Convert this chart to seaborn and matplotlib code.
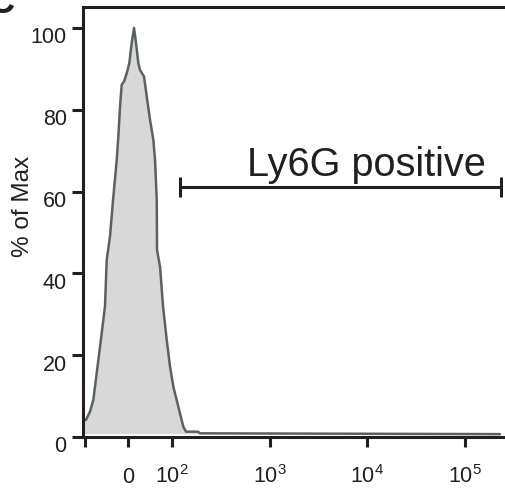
import matplotlib
matplotlib.use('Agg')
import matplotlib.pyplot as plt
import matplotlib.transforms as mtransforms
import pandas as pd
import seaborn as sns

# Ly6G histogram outline (fluorescence units, % of max)
ly6g_fluor = [-103.8, -103.8, -97.4, -88.2, -80.6, -72.8, -65.2, -53.7, -49.7,
              -42.1, -35.2, -26.7, -23.0, -19.1, -15.2, -9.9, -3.7, 2.3, 7.8,
              13.1, 17.7, 23.0, 26.9, 36.2, 42.4, 50.0, 57.6, 61.5, 65.4, 66.1,
              73.0, 79.9, 88.4, 96.0, 103.8, 116.7, 131.3, 140.0, 185.7, 194.5,
              227000.0]
pct_max = [0.8, 4.2, 4.2, 6.2, 9.0, 15.6, 22.0, 31.9, 43.3,
           49.1, 57.9, 67.7, 73.4, 80.8, 86.1, 86.9, 88.9, 91.4, 96.3,
           100.0, 96.3, 91.4, 89.7, 88.1, 83.2, 77.5, 72.6, 67.7, 57.9, 45.7,
           41.6, 31.9, 23.7, 17.2, 12.3, 7.4, 2.5, 1.3, 1.3, 0.9,
           0.7]

# axis ticks
x_ticks = [-100, 0, 100, 1000, 10000, 100000]
x_tick_labels = ['', '0', r'$10^2$', r'$10^3$', r'$10^4$', r'$10^5$']
y_ticks = [0, 20, 40, 60, 80, 100]

# gate
gate_range = [122, 233000]
gate_level = 61
gate_label = 'Ly6G positive'

ink = '#231f20'

sns.set_style('ticks')
plt.rcParams['font.family'] = ['Liberation Sans', 'DejaVu Sans']
plt.rcParams['mathtext.fontset'] = 'custom'
plt.rcParams['mathtext.rm'] = 'Liberation Sans'
plt.rcParams['mathtext.it'] = 'Liberation Sans:italic'
plt.rcParams['mathtext.bf'] = 'Liberation Sans:bold'
plt.rcParams['mathtext.default'] = 'regular'

fig = plt.figure(figsize=(5.05, 4.93), dpi=100)
ax = fig.add_axes([0.1634, 0.1136, 0.8366, 0.8722])

hist = pd.DataFrame({'fluor': ly6g_fluor, 'pct': pct_max})
ax.fill_between(hist['fluor'], hist['pct'], 0.8, color='#d8d8d8', lw=0)
sns.lineplot(data=hist, x='fluor', y='pct', estimator=None, sort=False,
             color='#59625f', lw=1.8, ax=ax)

# gate bar
ax.plot(gate_range, [gate_level, gate_level], color=ink, lw=2.2,
        marker='|', markersize=13.7, markeredgewidth=2.2)
ax.text(588, 63.9, gate_label, fontsize=28.6, color=ink,
        ha='left', va='baseline')

ax.set_xscale('symlog', linthresh=100, linscale=0.40)
ax.set_xlim(-105.7, 256000)
ax.set_ylim(0, 105.1)
ax.set_xticks(x_ticks)
ax.set_xticklabels(x_tick_labels)
ax.xaxis.set_minor_locator(matplotlib.ticker.NullLocator())
ax.set_yticks(y_ticks)
ax.set_yticklabels([str(v) for v in y_ticks])

for side in ['left', 'bottom', 'top']:
    ax.spines[side].set_linewidth(2.2)
    ax.spines[side].set_color(ink)
ax.spines['right'].set_visible(False)

ax.tick_params(axis='y', direction='out', length=7.9, width=2.2, color=ink,
               labelsize=15.5, labelcolor=ink, pad=3.5)
ax.tick_params(axis='x', direction='out', length=7.2, width=2.2, color=ink,
               labelsize=15.5, labelcolor=ink, pad=25.9)

for lab in ax.get_xticklabels():
    lab.set_va('baseline')
shift = mtransforms.ScaledTranslation(0, -7.5 / 100, fig.dpi_scale_trans)
for lab in ax.get_yticklabels():
    lab.set_transform(lab.get_transform() + shift)

ax.set_xlabel('')
ax.set_ylabel('% of Max', fontsize=17.5, color=ink, va='center')
ax.yaxis.set_label_coords(-0.1400, 0.536)

# panel letter, cropped at the top-left corner
fig.text(-0.022, 0.973, 'C', fontsize=26, fontweight='bold', color=ink,
         ha='left', va='baseline')

fig.savefig('out.png', dpi=100)
